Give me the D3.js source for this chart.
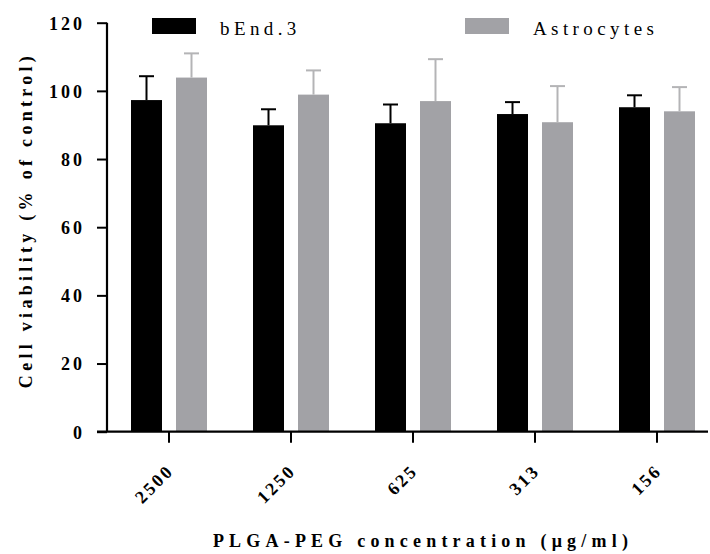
<!DOCTYPE html>
<html><head><meta charset="utf-8">
<script src="https://cdn.jsdelivr.net/npm/d3@7"></script>
<style>body{margin:0;background:#fff}svg{display:block}</style>
</head><body><svg id="c" width="710" height="554"></svg>
<script>
const categories = ["2500","1250","625","313","156"];
const seriesNames = ["bEnd.3","Astrocytes"];
const bEndMean = [97.3, 89.9, 90.5, 93.2, 95.2];
const bEndErr  = [7.0, 4.7, 5.5, 3.5, 3.5];
const astroMean = [103.9, 98.9, 97.0, 90.8, 94.0];
const astroErr  = [7.1, 7.1, 12.3, 10.6, 7.1];
const yTicks = [0,20,40,60,80,100,120];

const svg = d3.select("#c");
const font = "'Liberation Serif', 'Times New Roman', serif";
const x0 = 107;
const y = d3.scaleLinear().domain([0,120]).range([431.7,22.7]);
const x = d3.scaleBand().domain(categories).range([108, 718]).paddingInner(0).paddingOuter(0);
const colors = ["#000000","#a2a2a6"];
const errColors = ["#000000","#b4b4b6"];
const series = [{m:bEndMean,e:bEndErr},{m:astroMean,e:astroErr}];
const barW = 31, gap = 14;

series.forEach((s,si)=>{
  const g = svg.append("g");
  categories.forEach((c,i)=>{
    const cx = x(c)+x.bandwidth()/2;
    const bx = si===0 ? cx - gap/2 - barW : cx + gap/2;
    const mid = bx + barW/2;
    g.append("rect").attr("x",bx).attr("y",y(s.m[i])).attr("width",barW)
      .attr("height",y(0)-y(s.m[i])).attr("fill",colors[si]);
    g.append("line").attr("x1",mid).attr("x2",mid).attr("y1",y(s.m[i])).attr("y2",y(s.m[i]+s.e[i]))
      .attr("stroke",errColors[si]).attr("stroke-width",2);
    g.append("line").attr("x1",mid-7.5).attr("x2",mid+7.5).attr("y1",y(s.m[i]+s.e[i])).attr("y2",y(s.m[i]+s.e[i]))
      .attr("stroke",errColors[si]).attr("stroke-width",2);
  });
});

// y axis
const ya = svg.append("g").attr("transform",`translate(${x0},0)`)
  .call(d3.axisLeft(y).tickValues(yTicks).tickSize(10).tickPadding(12));
ya.attr("font-family",null).attr("font-size",null);
ya.select(".domain").attr("stroke","#000").attr("stroke-width",2.2).attr("d",`M0,${y(120)}V${y(0)}`);
ya.selectAll(".tick line").attr("stroke","#000").attr("stroke-width",2);
ya.selectAll(".tick text").style("font-family",font).style("font-weight","bold").style("font-size","18px")
  .style("letter-spacing","3px").attr("fill","#000").attr("dy","0.35em");

// x axis
const xa = svg.append("g").attr("transform",`translate(0,${y(0)})`)
  .call(d3.axisBottom(x).tickSize(11).tickPadding(6));
xa.attr("font-family",null).attr("font-size",null);
xa.select(".domain").attr("stroke","#000").attr("stroke-width",2.2).attr("d",`M97,0H708`);
xa.selectAll(".tick line").attr("stroke","#000").attr("stroke-width",2);
xa.selectAll(".tick text").style("font-family",font).style("font-weight","bold").style("font-size","18px")
  .style("letter-spacing","2.6px").attr("fill","#000")
  .attr("text-anchor","end").attr("dy",null).attr("y",0)
  .attr("transform","translate(6,40) rotate(-45)");

// axis titles
svg.append("text").attr("transform","translate(32,220) rotate(-90)").attr("text-anchor","middle")
  .style("font-family",font).style("font-weight","bold").style("font-size","18px").style("letter-spacing","4.3px")
  .text("Cell viability (% of control)");
svg.append("text").attr("x",423).attr("y",547).attr("text-anchor","middle")
  .style("font-family",font).style("font-weight","bold").style("font-size","18px").style("letter-spacing","5.2px")
  .text("PLGA-PEG concentration (μg/ml)");

// legend
const leg = [{x:152,tx:220},{x:465,tx:533}];
seriesNames.forEach((n,i)=>{
  svg.append("rect").attr("x",leg[i].x).attr("y",18).attr("width",44).attr("height",16).attr("fill",colors[i]);
  svg.append("text").attr("x",leg[i].tx).attr("y",35).style("font-family",font).style("font-size","19px")
    .style("letter-spacing","4.4px").attr("fill","#000").text(n);
});
</script></body></html>
